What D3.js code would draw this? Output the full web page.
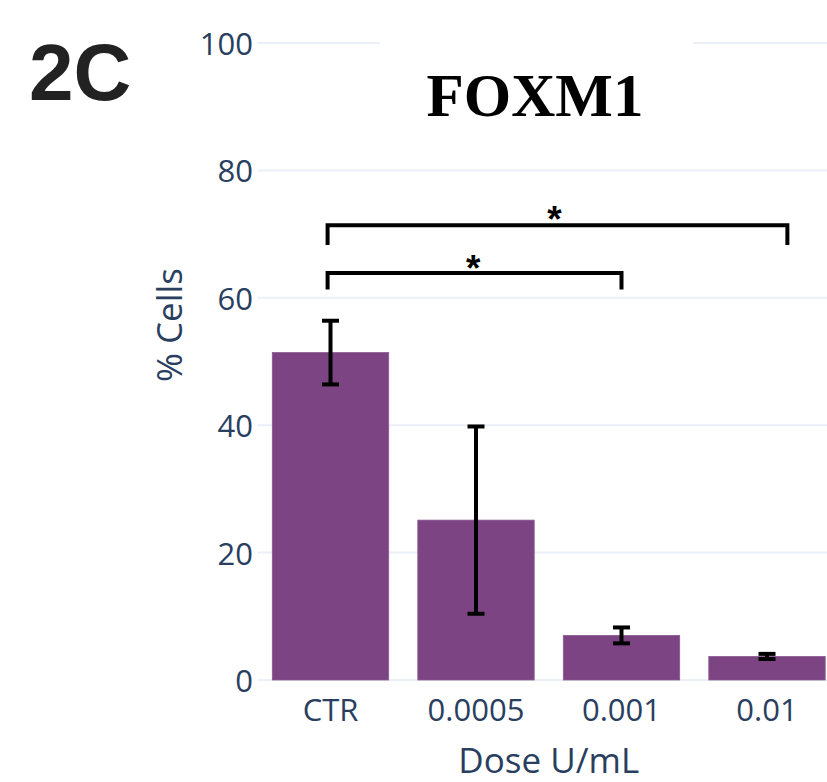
<!DOCTYPE html>
<html>
<head>
<meta charset="utf-8">
<script src="https://cdn.jsdelivr.net/npm/d3@7"></script>
<style>
  html, body { margin: 0; padding: 0; background: #ffffff; }
  svg { display: block; }
</style>
</head>
<body>
<div id="chart"></div>
<script>
// ---- data ----
const categories = ["CTR", "0.0005", "0.001", "0.01"];
const values = [51.4, 25.1, 7.0, 3.7];
const errors = [5.0, 14.7, 1.25, 0.4];
const yTicks = [0, 20, 40, 60, 80, 100];
const chartTitle = "FOXM1";
const panelLabel = "2C";
const xTitle = "Dose U/mL";
const yTitle = "% Cells";
// significance brackets: category-index positions, level and drop (in y units)
const bracketFrom = [-0.02, -0.02];
const bracketTo = [2.0, 3.14];
const bracketLevel = [63.9, 71.4];
const bracketDrop = [2.6, 3.1];
const bracketLabel = ["*", "*"];
const starPos = [0.98, 1.54];
const starLevel = [65.9, 73.6];

// ---- layout ----
const W = 827, H = 782;
const plotLeft = 257.75, plotRight = 839.75;
const plotTop = 43, plotBottom = 680;
const axisColor = "#2a3f5f";
const gridColor = "#ebf0f8";
const barColor = "#7d4484";

const svg = d3.select("#chart").append("svg")
  .attr("width", W).attr("height", H)
  .attr("viewBox", `0 0 ${W} ${H}`);

const x = d3.scaleBand().domain(categories)
  .range([plotLeft, plotRight]).paddingInner(0.2).paddingOuter(0.1);
const y = d3.scaleLinear().domain([0, 100]).range([plotBottom, plotTop]);
const xi = d3.scaleLinear().domain([0, categories.length - 1])
  .range([x(categories[0]) + x.bandwidth() / 2, x(categories[categories.length - 1]) + x.bandwidth() / 2]);

// gridlines
svg.append("g").selectAll("line").data(yTicks).join("line")
  .attr("x1", plotLeft).attr("x2", plotRight)
  .attr("y1", d => y(d)).attr("y2", d => y(d))
  .attr("stroke", gridColor).attr("stroke-width", 2);

// y tick labels
svg.append("g").selectAll("text").data(yTicks).join("text")
  .attr("x", 253).attr("y", d => y(d))
  .attr("text-anchor", "end").attr("dominant-baseline", "central")
  .attr("font-family", "'Open Sans', sans-serif").attr("font-size", 31)
  .attr("fill", axisColor)
  .text(d => d);

// bars
svg.append("g").selectAll("rect").data(categories).join("rect")
  .attr("x", d => x(d)).attr("width", x.bandwidth())
  .attr("y", (d, i) => y(values[i]))
  .attr("height", (d, i) => y(0) - y(values[i]))
  .attr("fill", barColor)
  .attr("stroke", "#8a5a90").attr("stroke-width", 0.8);

// error bars
const eb = svg.append("g").attr("stroke", "#000").attr("stroke-width", 4);
categories.forEach((c, i) => {
  const cx = x(c) + x.bandwidth() / 2;
  const yt = y(values[i] + errors[i]), yb = y(values[i] - errors[i]);
  const hw = 8.5;
  eb.append("line").attr("x1", cx).attr("x2", cx).attr("y1", yt).attr("y2", yb);
  eb.append("line").attr("x1", cx - hw).attr("x2", cx + hw).attr("y1", yt).attr("y2", yt);
  eb.append("line").attr("x1", cx - hw).attr("x2", cx + hw).attr("y1", yb).attr("y2", yb);
});

// x tick labels
svg.append("g").selectAll("text").data(categories).join("text")
  .attr("x", d => x(d) + x.bandwidth() / 2).attr("y", 721)
  .attr("text-anchor", "middle")
  .attr("font-family", "'Open Sans', sans-serif").attr("font-size", 31)
  .attr("fill", axisColor)
  .text(d => d);

// axis titles
svg.append("text")
  .attr("x", (plotLeft + plotRight) / 2).attr("y", 773)
  .attr("text-anchor", "middle")
  .attr("font-family", "'Open Sans', sans-serif").attr("font-size", 35)
  .attr("fill", axisColor).text(xTitle);

svg.append("text")
  .attr("transform", `translate(182, 325) rotate(-90)`)
  .attr("text-anchor", "middle")
  .attr("font-family", "'Open Sans', sans-serif").attr("font-size", 35)
  .attr("fill", axisColor).text(yTitle);

// significance brackets
const br = svg.append("g");
bracketFrom.forEach((f, i) => {
  const x1 = xi(f), x2 = xi(bracketTo[i]);
  const yl = y(bracketLevel[i]), yd = y(bracketLevel[i] - bracketDrop[i]);
  br.append("path")
    .attr("d", `M${x1},${yd}V${yl}H${x2}V${yd}`)
    .attr("fill", "none").attr("stroke", "#000").attr("stroke-width", 4);
  br.append("text")
    .attr("x", xi(starPos[i])).attr("y", y(starLevel[i]) + 21)
    .attr("text-anchor", "middle")
    .attr("font-family", "'Liberation Sans', Arial, sans-serif")
    .attr("font-weight", "bold").attr("font-size", 37)
    .attr("fill", "#000").text(bracketLabel[i]);
});

// title with white background
svg.append("rect").attr("x", 380).attr("y", 30).attr("width", 313).attr("height", 105).attr("fill", "#fff");
svg.append("text")
  .attr("x", 535).attr("y", 116)
  .attr("text-anchor", "middle")
  .attr("font-family", "'Liberation Serif', 'Times New Roman', serif")
  .attr("font-weight", "bold").attr("font-size", 61)
  .attr("fill", "#000").text(chartTitle);

// panel label
svg.append("text")
  .attr("x", 29).attr("y", 100)
  .attr("font-family", "'Liberation Sans', Arial, sans-serif")
  .attr("font-weight", "bold").attr("font-size", 80)
  .attr("fill", "#222").text(panelLabel);
</script>
</body>
</html>
